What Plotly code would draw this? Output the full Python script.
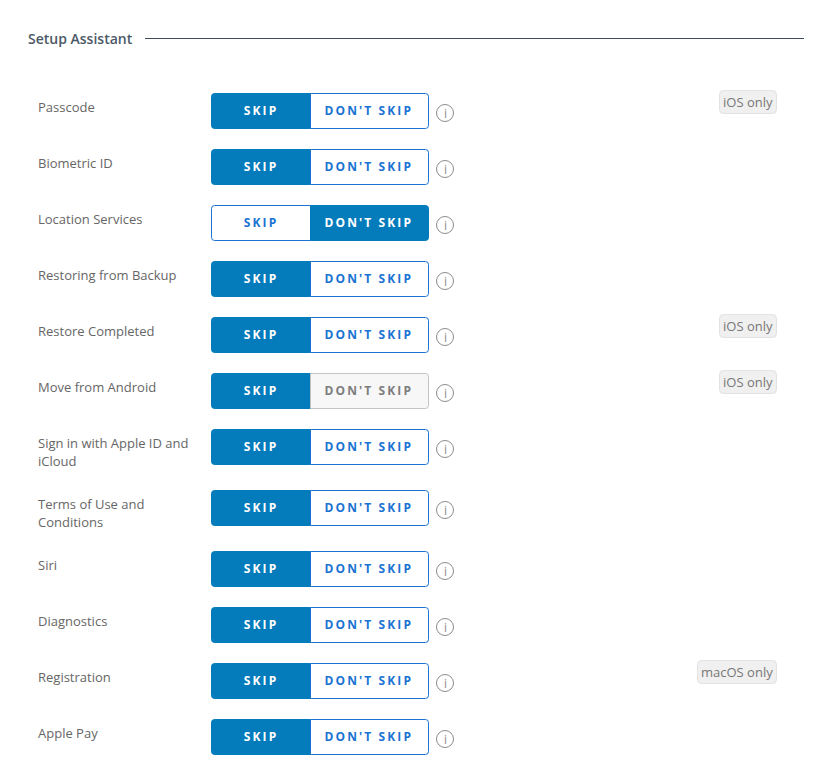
import plotly.graph_objects as go

W = 829
H = 776

heading = "Setup Assistant"
row_labels = ["Passcode", "Biometric ID", "Location Services", "Restoring from Backup",
              "Restore Completed", "Move from Android", "Sign in with Apple ID and<br>iCloud",
              "Terms of Use and<br>Conditions", "Siri", "Diagnostics", "Registration", "Apple Pay"]
selected = ["SKIP", "SKIP", "DON'T SKIP", "SKIP", "SKIP", "SKIP",
            "SKIP", "SKIP", "SKIP", "SKIP", "SKIP", "SKIP"]
disabled = ["", "", "", "", "", "DON'T SKIP", "", "", "", "", "", ""]
platform = ["iOS only", "", "", "", "iOS only", "iOS only", "", "", "", "", "macOS only", ""]

FONT = "Open Sans"
BLUE = "#047cbc"
LINK = "#1a73d2"


def rounded(x0, x1, y0, y1, left=0, right=0):
    # svg path with optional rounded corners on each side
    return (f"M{x0 + left},{y0} L{x1 - right},{y0} Q{x1},{y0} {x1},{y0 + right} "
            f"L{x1},{y1 - right} Q{x1},{y1} {x1 - right},{y1} L{x0 + left},{y1} "
            f"Q{x0},{y1} {x0},{y1 - left} L{x0},{y0 + left} Q{x0},{y0} {x0 + left},{y0} Z")


shapes = []
notes = []


def add_text(x, y, text, size, color, anchor="left", weight=400):
    notes.append(dict(x=x, y=y, text=text, showarrow=False, xanchor=anchor, yanchor="middle",
                      xref="x", yref="y", align=anchor, borderpad=0,
                      font=dict(family=FONT, size=size, color=color, weight=weight)))


def add_segment(x0, x1, top, text, left, right, state):
    if state == "on":
        fill, line, color = BLUE, BLUE, "#ffffff"
    elif state == "off":
        fill, line, color = "#f7f7f7", "#c4c4c4", "#7d7d7d"
    else:
        fill, line, color = "#ffffff", LINK, LINK
    shapes.append(dict(type="path", path=rounded(x0 + 0.5, x1 - 0.5, top + 0.5, top + 35.5, left, right),
                       fillcolor=fill, line=dict(color=line, width=1), xref="x", yref="y"))
    add_text((x0 + x1) / 2 - 0.5, top + 17.5, text, 12, color, "center", 700)


add_text(27, 38.5, heading, 14, "#4b5967", weight=600)
shapes.append(dict(type="line", x0=145, x1=804, y0=38.5, y1=38.5, xref="x", yref="y",
                   line=dict(color="#3d4b5c", width=1)))

top = 93
for label, sel, dis, plat in zip(row_labels, selected, disabled, platform):
    lines = label.split("<br>")
    for i, part in enumerate(lines):
        add_text(37, top + 14 + i * 18, part, 13, "#666666")

    for text, x0, x1, left, right in [("SKIP", 211, 311, 3, 0), ("DON'T SKIP", 310, 429, 0, 3)]:
        state = "on" if text == sel else "off" if text == dis else "idle"
        add_segment(x0, x1, top, text, left, right, state)

    shapes.append(dict(type="circle", x0=436.5, x1=453.5, y0=top + 11.5, y1=top + 28.5, xref="x", yref="y",
                       line=dict(color="#8c8c8c", width=1), fillcolor="#ffffff"))
    add_text(445, top + 20, "i", 12, "#8c8c8c", "center")

    if plat:
        x0 = 777 - (80 if plat.startswith("mac") else 58)
        shapes.append(dict(type="path", path=rounded(x0 + 0.5, 776.5, top - 2.5, top + 20.5, 4, 4),
                           fillcolor="#f0f0f0", line=dict(color="#e2e2e2", width=1), xref="x", yref="y"))
        add_text((x0 + 777) / 2, top + 9, plat, 13, "#777777", "center")

    top += 56 + (len(lines) - 1) * 5

fig = go.Figure()
fig.update_layout(
    width=W, height=H, margin=dict(l=0, r=0, t=0, b=0),
    paper_bgcolor="#ffffff", plot_bgcolor="#ffffff", showlegend=False,
    xaxis=dict(range=[0, W], visible=False, fixedrange=True),
    yaxis=dict(range=[H, 0], visible=False, fixedrange=True),
    shapes=shapes, annotations=notes,
)

# letter spacing on the button captions, plotly has no font option for it
spacing = """
document.body.style.margin = '0';
document.querySelectorAll('.annotation-text').forEach(function (t) {
  if (t.textContent === 'SKIP' || t.textContent === "DON'T SKIP") {
    t.style.letterSpacing = '2.1px';
  }
});
"""
fig.write_html("out.html", config=dict(displayModeBar=False), post_script=spacing)
